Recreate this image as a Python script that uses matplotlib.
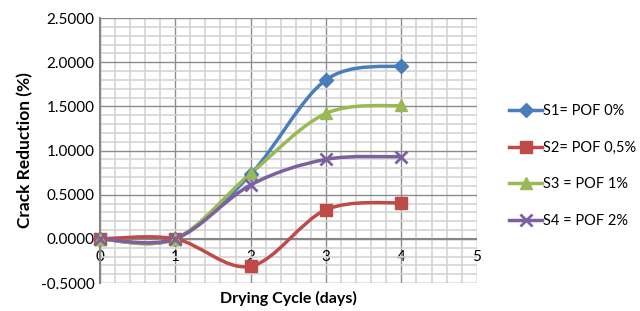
import numpy as np
import matplotlib.pyplot as plt
from matplotlib.path import Path
from matplotlib.patches import PathPatch
from matplotlib.lines import Line2D
from matplotlib.ticker import MultipleLocator, FormatStrFormatter

plt.rcParams['font.family'] = ['Lato', 'DejaVu Sans']

days = [0, 1, 2, 3, 4]
s1 = [0.0, 0.0, 0.73, 1.80, 1.96]
s2 = [0.0, 0.0, -0.31, 0.33, 0.41]
s3 = [0.0, 0.0, 0.74, 1.42, 1.51]
s4 = [0.0, 0.0, 0.61, 0.90, 0.93]
labels = ['S1= POF 0%', 'S2= POF 0,5%', 'S3 = POF 1%', 'S4 = POF 2%']
colors = ['#4A7EBB', '#BE4B48', '#98B954', '#7D60A0']
markers = ['D', 's', '^', 'x']
msizes = [7, 9, 8, 8]


def smooth_path(x, y):
    # Excel-style smoothed line: cubic Bezier between each pair of points
    p = np.column_stack([x, y]).astype(float)
    pts = np.vstack([p[0], p, p[-1]])
    verts = [p[0]]
    codes = [Path.MOVETO]
    for i in range(1, len(pts) - 2):
        c1 = pts[i] + (pts[i + 1] - pts[i - 1]) / 6
        c2 = pts[i + 1] - (pts[i + 2] - pts[i]) / 6
        verts += [c1, c2, pts[i + 1]]
        codes += [Path.CURVE4] * 3
    return Path(verts, codes)


fig = plt.figure(figsize=(6.4, 3.11), dpi=100)
ax = fig.add_axes([0.156, 0.090, 0.589, 0.852])

ax.set_xlim(0, 5)
ax.set_ylim(-0.5, 2.5)
ax.xaxis.set_major_locator(MultipleLocator(1))
ax.xaxis.set_minor_locator(MultipleLocator(0.2))
ax.yaxis.set_major_locator(MultipleLocator(0.5))
ax.yaxis.set_minor_locator(MultipleLocator(0.1))
ax.yaxis.set_major_formatter(FormatStrFormatter('%.4f'))
ax.grid(which='major', color='#8C8C8C', lw=1.0)
ax.grid(which='minor', color='#D4D4D4', lw=1.2)
ax.set_axisbelow(True)

for side in ['top', 'right', 'bottom']:
    ax.spines[side].set_visible(False)
ax.spines['left'].set_color('#868686')
ax.spines['left'].set_linewidth(1.5)
ax.axhline(0, color='#868686', lw=1.5, zorder=1)

ax.tick_params(axis='both', which='both', length=0, labelsize=11, colors='black')
ax.tick_params(axis='x', pad=-24)
ax.tick_params(axis='y', pad=4)

handles = []
for ys, c, m, ms, lab in zip([s1, s2, s3, s4], colors, markers, msizes, labels):
    patch = PathPatch(smooth_path(days, ys), fill=False, edgecolor=c, lw=2.5,
                      transform=ax.transData, zorder=3, clip_on=False)
    ax.add_patch(patch)
    ax.plot(days, ys, ls='none', marker=m, color=c, ms=ms, mew=2 if m == 'x' else 1,
            zorder=4, clip_on=False)
    handles.append(Line2D([], [], color=c, lw=2.5, marker=m, ms=ms,
                          mew=2 if m == 'x' else 1))

ax.set_ylabel('Crack Reduction (%)', fontsize=12.5, fontweight='bold', labelpad=5)
ax.set_xlabel('Drying Cycle (days)', fontsize=11.5, fontweight='bold', labelpad=2)

fig.legend(handles, labels, loc='center left', bbox_to_anchor=(0.786, 0.466),
           frameon=False, fontsize=10.5, handlelength=2.3, labelspacing=1.55,
           handletextpad=0.05, borderpad=0.2, borderaxespad=0.2)

fig.savefig('out.png', dpi=100)
